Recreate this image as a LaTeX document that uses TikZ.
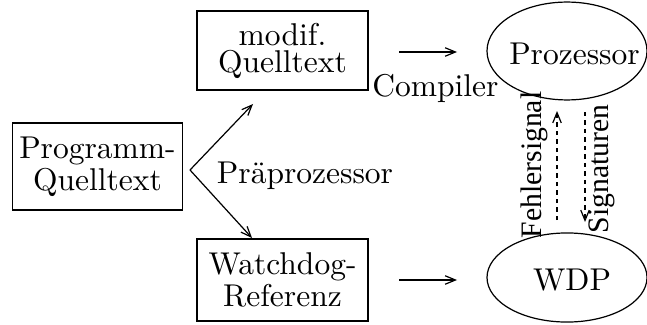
\documentclass[tikz,border=0pt]{standalone}
\usepackage{fontspec}
\newfontfamily\timesf{Liberation Serif}
\usetikzlibrary{shapes.geometric,arrows.meta}
\begin{document}
\begin{tikzpicture}[x=0.33pt,y=-0.33pt,
  font=\fontsize{10.4}{8.9}\selectfont,
  line width=0.4pt,
  box/.style={draw, inner sep=0pt, align=center},
  oval/.style={draw, ellipse, inner sep=0pt},
  lbl/.style={anchor=base, inner sep=0pt},
  arr/.style={-{Straight Barb[length=3.4pt,width=2.8pt]}},
  dsh/.style={arr, dash pattern=on 1.4pt off 1.4pt},
  rot/.style={rotate=90, anchor=base, inner sep=0pt, font=\timesf\fontsize{9.8}{10}\selectfont}]
\useasboundingbox (0,0) rectangle (647,324);
% boxes
\node[box, minimum width=56.1pt, minimum height=28.7pt] (src) at (97.5,166.5) {Programm-\\Quelltext};
\node[box, minimum width=56.4pt, minimum height=26.1pt] (mod) at (282.5,50.5) {modif.\\Quelltext};
\node[box, minimum width=56.4pt, minimum height=27.1pt] (ref) at (282.5,280) {Watchdog-\\Referenz};
% ellipses
\node[oval, minimum width=52.8pt, minimum height=32.3pt] (proz) at (567,51) {};
\node[lbl] (proztxt) at (574.5,65) {Prozessor};
\node[oval, minimum width=52.8pt, minimum height=29.4pt] (wdp) at (567,277.5) {};
\node[lbl] (wdptxt) at (572,290) {WDP};
% labels
\node[lbl] (comp) at (435.5,97) {Compiler};
\node[lbl] (prep) at (305,183) {Präprozessor};
\node[rot] (fehl) at (541,165) {Fehlersignal};
\node[rot] (sig) at (608,169) {Signaturen};
% connector points
\coordinate (v) at (190,170);
\coordinate (t1) at (253,104);
\coordinate (t2) at (252,238);
\coordinate (a1) at (399,52);
\coordinate (a2) at (457,52);
\coordinate (b1) at (399,280);
\coordinate (b2) at (457,280);
\coordinate (f1) at (557,220);
\coordinate (f2) at (557,111);
\coordinate (s1) at (585,112);
\coordinate (s2) at (585,222);
% connectors
\draw[arr] (v) -- (t1);
\draw[arr] (v) -- (t2);
\draw[arr] (a1) -- (a2);
\draw[arr] (b1) -- (b2);
\draw[dsh] (f1) -- (f2);
\draw[dsh] (s1) -- (s2);
\end{tikzpicture}
\end{document}
